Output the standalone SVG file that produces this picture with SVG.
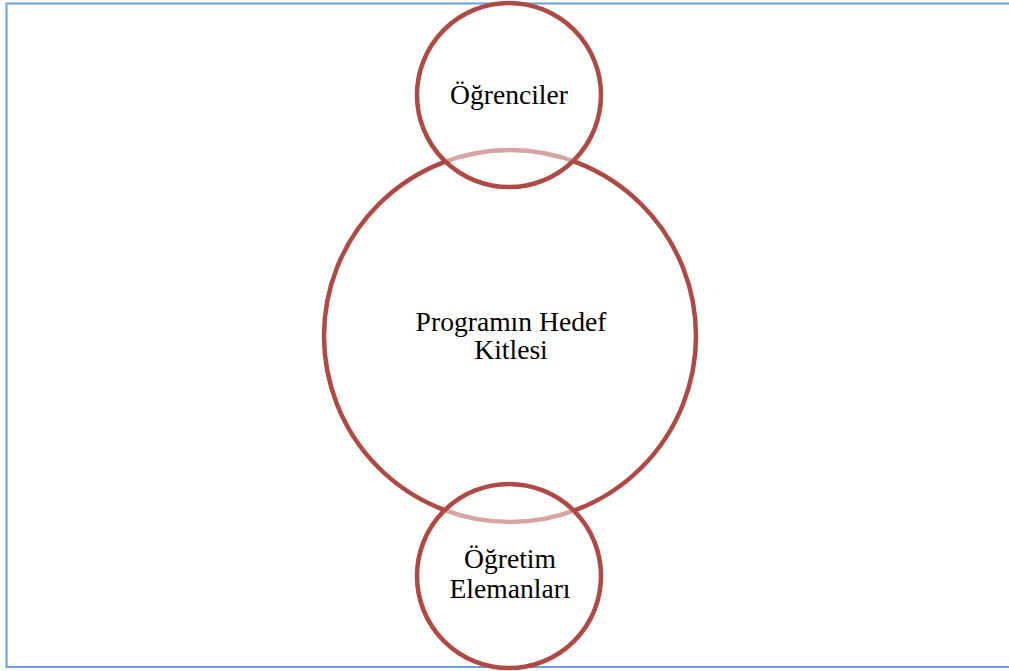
<svg xmlns="http://www.w3.org/2000/svg" width="1009" height="671" viewBox="0 0 1009 671">
<style>
.c{stroke:#b04843;stroke-width:4.5}
.big{fill:#ffffff}
.small{fill:#ffffff;fill-opacity:0.5}
.t{font-family:"Liberation Serif","Times New Roman",serif;font-size:27.6px;fill:#000;text-anchor:middle}
</style>
<rect x="6.5" y="3.5" width="1010" height="663.5" fill="#fff" stroke="#6a9ee6" stroke-width="2"/>
<g id="hedef">
<circle class="c big" cx="510" cy="336" r="186"/>
<text class="t" x="511" y="331">Programın Hedef</text>
<text class="t" x="511" y="359">Kitlesi</text>
</g>
<g id="connectors"></g>
<g id="ogrenciler">
<circle class="c small" cx="509" cy="95" r="92"/>
<text class="t" x="509" y="104">Öğrenciler</text>
</g>
<g id="ogretim">
<circle class="c small" cx="509" cy="576" r="92"/>
<text class="t" x="510" y="568">Öğretim</text>
<text class="t" x="510" y="598">Elemanları</text>
</g>
</svg>
